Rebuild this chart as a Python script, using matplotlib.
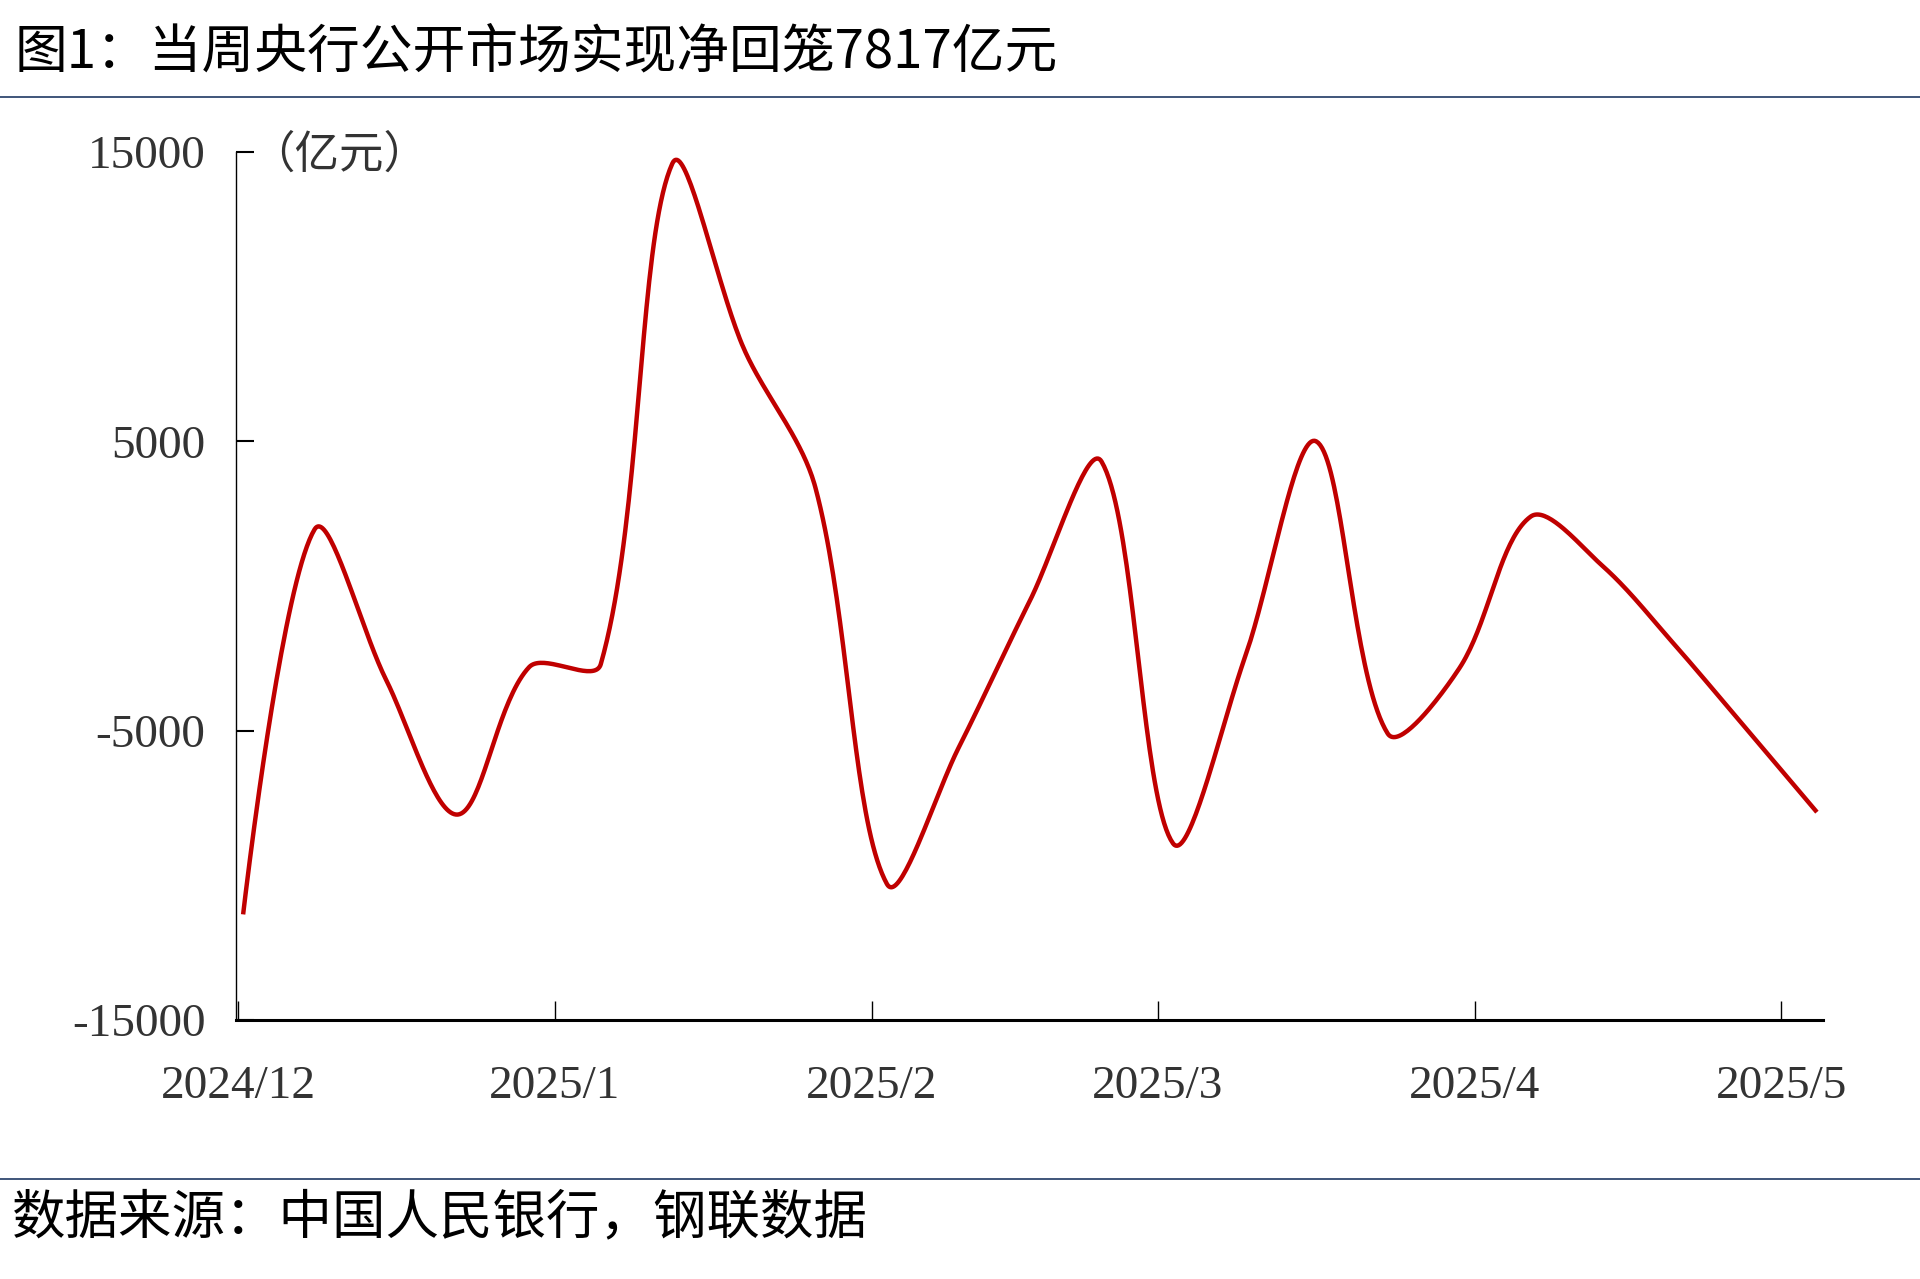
import numpy as np
import pandas as pd
import matplotlib
matplotlib.use("Agg")
import matplotlib.pyplot as plt
import matplotlib.dates as mdates
from matplotlib.lines import Line2D
from matplotlib.ticker import FixedLocator, FuncFormatter

# weekly net injection (+) / withdrawal (-) of PBOC open market ops, 100mn yuan
week_dates = pd.date_range("2024-12-01 12:00", periods=23, freq="7D")
net_values = [-11350, 1960, -3250, -7900, -2800, -2700, 14600, 8200, 3400,
              -10300, -5600, -500, 4300, -8900, -2500, 5000, -5100, -2850,
              2400, 700, -2000, -4900, -7817]

month_ticks = ["2024-12-01", "2025-01-01", "2025-02-01", "2025-03-01",
               "2025-04-01", "2025-05-01"]
month_labels = ["2024/12", "2025/1", "2025/2", "2025/3", "2025/4", "2025/5"]
y_ticks = [-15000, -5000, 5000, 15000]

title_text = "图1：当周央行公开市场实现净回笼7817亿元"
source_text = "数据来源：中国人民银行，钢联数据"
unit_text = "（亿元）"

cjk = ["Noto Sans CJK SC", "DejaVu Sans"]
serif = ["Liberation Serif", "DejaVu Serif"]


def smooth_line(x, y, sx, sy, tension=1/3., n=40):
    # excel-like smoothed line: bezier segments whose control points are
    # scaled by neighbouring chord lengths (measured on screen)
    P = np.column_stack([x * sx, y * sy])
    m = len(P)
    cin = P.copy()
    cout = P.copy()
    for i in range(1, m - 1):
        d01 = np.hypot(*(P[i] - P[i - 1]))
        d12 = np.hypot(*(P[i + 1] - P[i]))
        d = P[i + 1] - P[i - 1]
        cin[i] = P[i] - tension * d01 / (d01 + d12) * d
        cout[i] = P[i] + tension * d12 / (d01 + d12) * d
    t = np.linspace(0, 1, n)[:, None]
    segs = []
    for i in range(m - 1):
        p1, c1, c2, p2 = P[i], cout[i], cin[i + 1], P[i + 1]
        segs.append((1 - t) ** 3 * p1 + 3 * (1 - t) ** 2 * t * c1
                    + 3 * (1 - t) * t ** 2 * c2 + t ** 3 * p2)
    out = np.vstack(segs)
    return out[:, 0] / sx, out[:, 1] / sy


ax_rect = [0.1229, 0.2025, 0.8266, 0.6787]
fig_w, fig_h = 19.2, 12.79

x0 = mdates.date2num(pd.Timestamp("2024-12-01")) - 0.2
x1 = mdates.date2num(pd.Timestamp("2025-05-05")) + 0.1
y0, y1 = -15000, 15000

xnum = mdates.date2num(week_dates.to_pydatetime())
px_x = ax_rect[2] * fig_w * 100 / (x1 - x0)
px_y = ax_rect[3] * fig_h * 100 / (y1 - y0)
cx, cy = smooth_line(xnum, np.array(net_values, dtype=float), px_x, px_y)

fig = plt.figure(figsize=(fig_w, fig_h), dpi=100, facecolor="white")
ax = fig.add_axes(ax_rect)

ax.plot(cx, cy, color="#C00000", lw=3.2, solid_capstyle="butt")

ax.set_xlim(x0, x1)
ax.set_ylim(y0, y1)

tick_pos = mdates.date2num(pd.to_datetime(month_ticks).to_pydatetime())
ax.xaxis.set_major_locator(FixedLocator(tick_pos))
ax.set_xticklabels(month_labels)
ax.yaxis.set_major_locator(FixedLocator(y_ticks))
ax.yaxis.set_major_formatter(FuncFormatter(lambda v, p: "%d" % v))

for s in ["top", "right"]:
    ax.spines[s].set_visible(False)
ax.spines["left"].set_linewidth(1.0)
ax.spines["bottom"].set_linewidth(2.2)

ax.tick_params(axis="x", direction="in", length=14, width=1.0, pad=33,
               labelsize=34, colors="black", labelcolor="#333333")
ax.tick_params(axis="y", direction="in", length=13, width=1.5, pad=22,
               labelsize=34, labelcolor="#333333")
for lab in ax.get_xticklabels() + ax.get_yticklabels():
    lab.set_family(serif)

ax.text(0.009, 0.997, unit_text, transform=ax.transAxes, ha="left",
        va="center", fontsize=32, family=cjk, color="#333333")

# title, rules and source
fig.text(0.0078, 0.9593, title_text, ha="left", va="center", fontsize=38,
         family=cjk, color="black")
fig.add_artist(Line2D([0, 1], [0.9242, 0.9242], transform=fig.transFigure,
                      color="#1F3864", lw=1.2))
fig.add_artist(Line2D([0, 1], [0.0782, 0.0782], transform=fig.transFigure,
                      color="#1F3864", lw=1.2))
fig.text(0.0063, 0.0477, source_text, ha="left", va="center", fontsize=38.5,
         family=cjk, color="black")

fig.savefig("out.png", dpi=100, facecolor="white")
